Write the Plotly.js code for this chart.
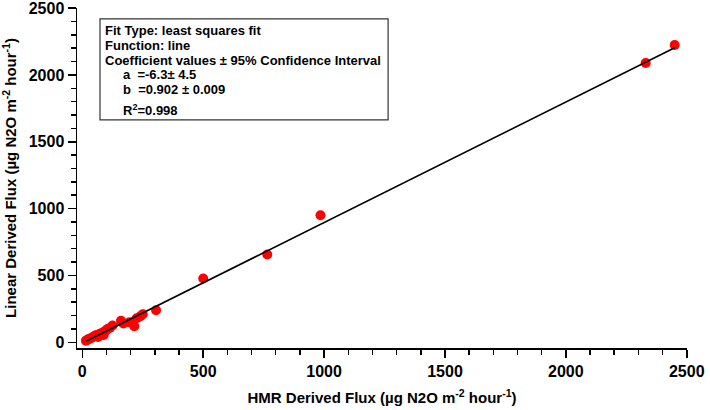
<!DOCTYPE html>
<html>
<head>
<meta charset="utf-8">
<script src="https://cdn.plot.ly/plotly-3.0.1.min.js"></script>
<style>
  html, body { margin: 0; padding: 0; background: #fff; }
  #chart { width: 710px; height: 410px; }
</style>
</head>
<body>
<div id="chart"></div>
<script>
// N2O flux: HMR-derived vs linear-derived (µg N2O m-2 hour-1)
const hmrFlux = [15, 22, 28, 35, 42, 50, 58, 65, 72, 80, 88, 95, 105, 115, 125,
                 160, 170, 195, 215, 225, 240, 250, 305, 500, 765, 985, 2330, 2450];
const linearFlux = [12, 20, 24, 30, 38, 45, 55, 40, 62, 70, 55, 85, 100, 108, 125,
                    160, 140, 150, 120, 180, 195, 210, 240, 477, 657, 950, 2089, 2224];

// Least-squares fit coefficients: y = a + b*x
const fitA = -6.3, fitAci = 4.5;
const fitB = 0.902, fitBci = 0.009;
const rSquared = 0.998;

const xTicks = [0, 500, 1000, 1500, 2000, 2500];
const yTicks = [0, 500, 1000, 1500, 2000, 2500];

const fitX = [Math.min(...hmrFlux), Math.max(...hmrFlux)];
const fitY = fitX.map(x => fitA + fitB * x);

const family = 'Arial, "Liberation Sans", sans-serif';
const tickFont = { family: family, size: 16, color: '#000' };
const titleFont = { family: family, size: 15, color: '#000' };
const boxFont = { family: family, size: 13, color: '#000' };
const bold = s => '<b>' + s + '</b>';

const traces = [
  {
    x: hmrFlux, y: linearFlux, type: 'scatter', mode: 'markers',
    marker: { color: '#ff0000', size: 10, line: { width: 0 } },
    hoverinfo: 'x+y'
  },
  {
    x: fitX, y: fitY, type: 'scatter', mode: 'lines',
    line: { color: '#000', width: 1.6 },
    hoverinfo: 'skip'
  }
];

const axisCommon = {
  showgrid: false, zeroline: false, showline: true,
  linecolor: '#000', linewidth: 1.5,
  ticks: 'outside', ticklen: 8, tickwidth: 1.5, tickcolor: '#000',
  tickmode: 'array', tickfont: tickFont, ticklabeloverflow: 'allow',
  minor: { dtick: 100, ticks: 'outside', ticklen: 5, tickwidth: 1.5, tickcolor: '#000' }
};

// Text-box line positions (paper coordinates)
const boxLeft = 0.0426, boxIndent = 0.072;
const boxLines = [
  { text: 'Fit Type: least squares fit', x: boxLeft, y: 0.935 },
  { text: 'Function: line', x: boxLeft, y: 0.891 },
  { text: 'Coefficient values ± 95% Confidence Interval', x: boxLeft, y: 0.846 },
  { text: 'a\u00A0\u00A0=' + fitA + '± ' + fitAci, x: boxIndent, y: 0.803 },
  { text: 'b\u00A0\u00A0=' + fitB + ' ± ' + fitBci, x: boxIndent, y: 0.759 },
  { text: 'R<sup>2</sup>=' + rSquared, x: boxIndent, y: 0.700 }
];

const layout = {
  width: 710, height: 410,
  margin: { l: 77, r: 23, t: 8, b: 62 },
  paper_bgcolor: '#fff', plot_bgcolor: '#fff',
  showlegend: false,
  xaxis: Object.assign({}, axisCommon, {
    range: [-22, 2501], tickvals: xTicks, ticktext: xTicks.map(v => bold(v)),
    title: { text: bold('HMR Derived Flux (µg N2O m<sup>-2</sup> hour<sup>-1</sup>)'), font: titleFont, standoff: 14 }
  }),
  yaxis: Object.assign({}, axisCommon, {
    range: [-43, 2501], tickvals: yTicks, ticktext: yTicks.map(v => bold(v)),
    title: { text: bold('Linear Derived Flux (µg N2O m<sup>-2</sup> hour<sup>-1</sup>)'), font: titleFont, standoff: 12 }
  }),
  shapes: [{
    type: 'rect', xref: 'paper', yref: 'paper',
    x0: 0.0377, x1: 0.51, y0: 0.671, y1: 0.968,
    line: { color: '#333', width: 1.2 }, fillcolor: 'rgba(0,0,0,0)'
  }],
  annotations: boxLines.map(l => ({
    text: bold(l.text), x: l.x, y: l.y, xref: 'paper', yref: 'paper',
    xanchor: 'left', yanchor: 'middle', showarrow: false, font: boxFont
  }))
};

Plotly.newPlot('chart', traces, layout, { displayModeBar: false, staticPlot: true });
</script>
</body>
</html>
